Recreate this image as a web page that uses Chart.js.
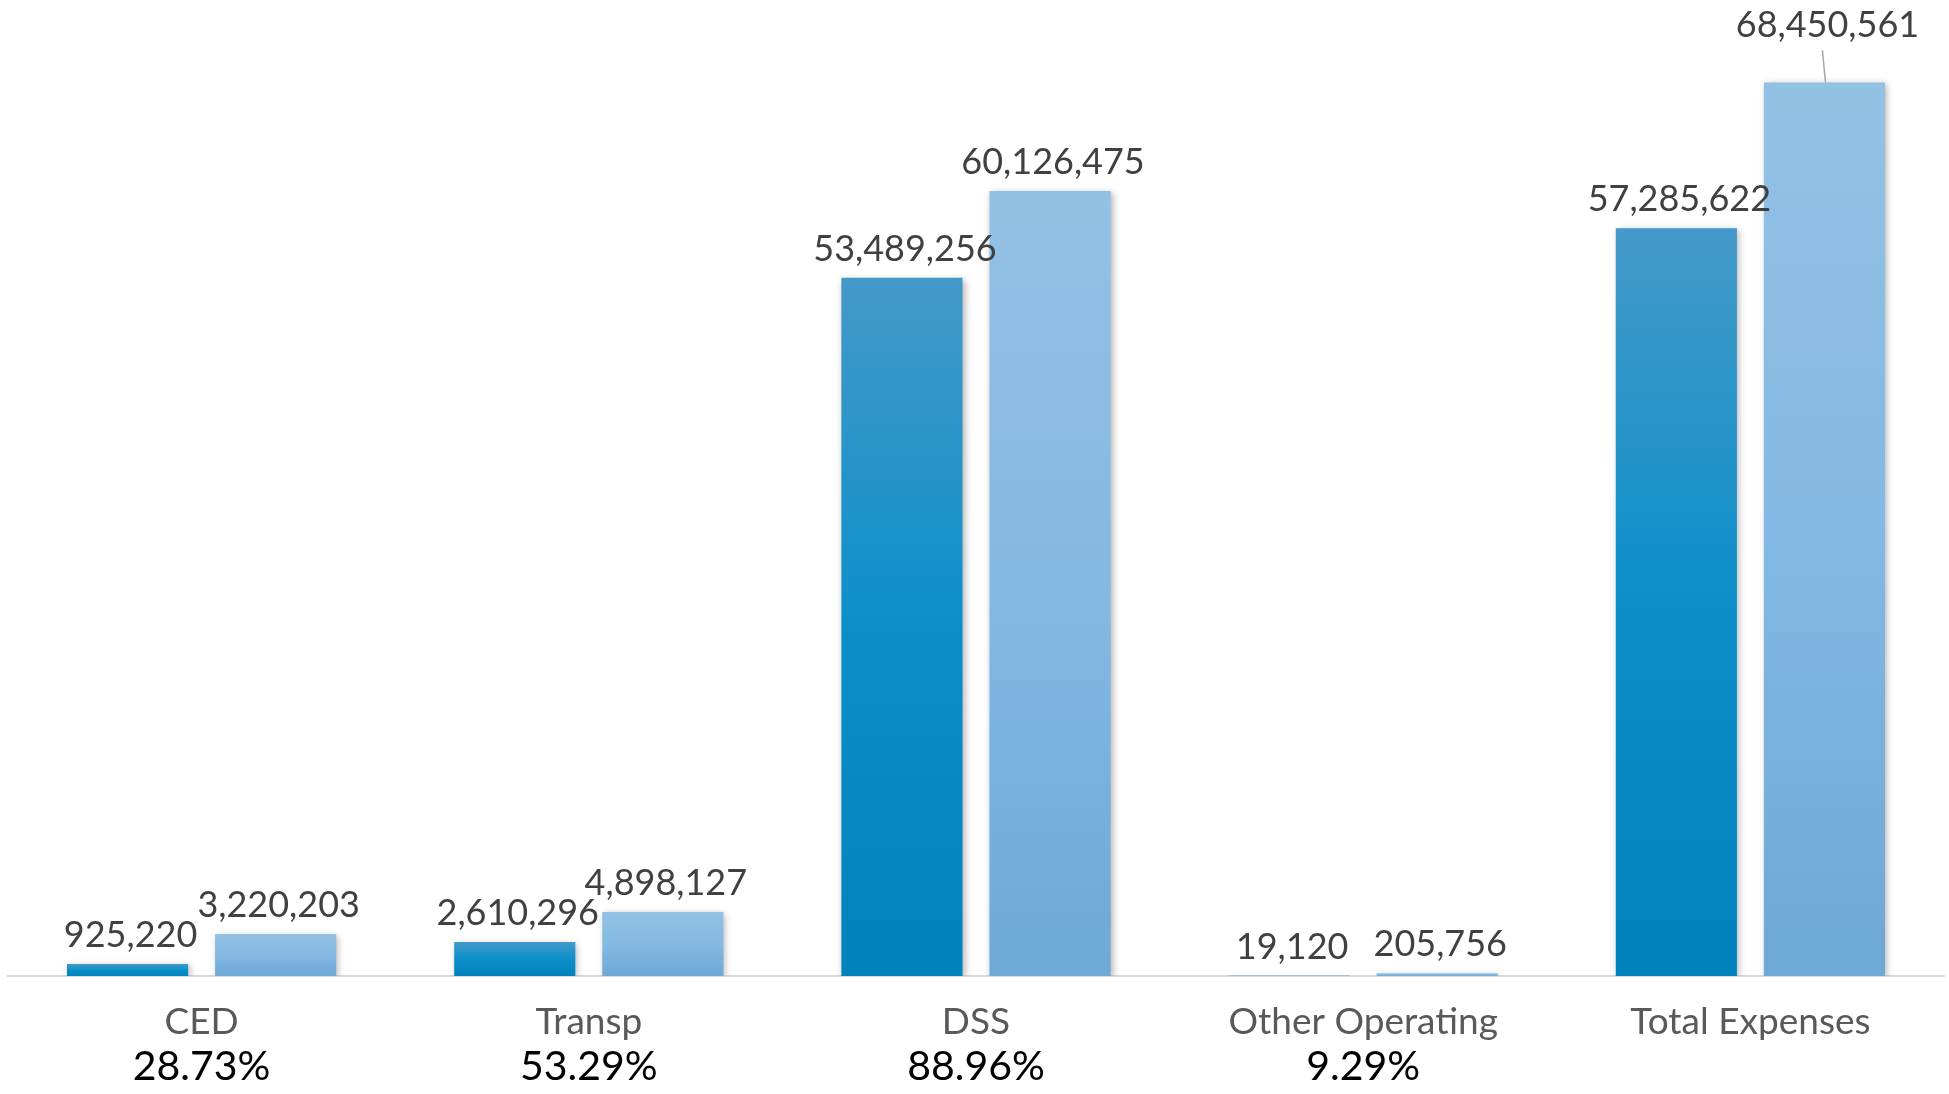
<!DOCTYPE html>
<html><head><meta charset="utf-8">
<script src="https://cdn.jsdelivr.net/npm/chart.js@4.4.0/dist/chart.umd.min.js"></script>
<style>html,body{margin:0;padding:0;background:#fff;} #wrap{width:1949px;height:1094px;position:relative;}</style>
</head><body><div id="wrap"><canvas id="c"></canvas></div>
<script>
const categories = ['CED', 'Transp', 'DSS', 'Other Operating', 'Total Expenses'];
const percentLabels = ['28.73%', '53.29%', '88.96%', '9.29%', ''];
const series1 = [925220, 2610296, 53489256, 19120, 57285622];
const series2 = [3220203, 4898127, 60126475, 205756, 68450561];

function grad(stops) {
  return (ctx) => {
    const chart = ctx.chart;
    const last = stops[stops.length - 1];
    if (!chart.chartArea || ctx.type !== 'data') return last;
    const y = chart.scales.y;
    const top = y.getPixelForValue(ctx.raw);
    const base = y.getPixelForValue(0);
    if (base - top < 1) return last;
    const g = chart.ctx.createLinearGradient(0, top, 0, base);
    stops.forEach((c, i) => g.addColorStop(i / (stops.length - 1), c));
    return g;
  };
}

const shadowPlugin = {
  id: 'barShadow',
  beforeDatasetsDraw(chart) {
    const c = chart.ctx;
    c.save();
    c.shadowColor = 'rgba(0,0,0,0.3)';
    c.shadowBlur = 7;
    c.shadowOffsetX = 2;
    c.shadowOffsetY = 2;
  },
  afterDatasetsDraw(chart) { chart.ctx.restore(); }
};

const labelPlugin = {
  id: 'valueLabels',
  afterDatasetsDraw(chart, args, opts) {
    const ctx = chart.ctx;
    ctx.save();
    ctx.font = '36px Lato';
    ctx.fillStyle = '#404040';
    ctx.textAlign = 'center';
    ctx.textBaseline = 'alphabetic';
    chart.data.datasets.forEach((ds, di) => {
      const meta = chart.getDatasetMeta(di);
      meta.data.forEach((bar, i) => {
        const text = ds.data[i].toLocaleString('en-US');
        let x = bar.x + 3, y = bar.y - 17;
        if (opts.lift && opts.lift.dataset === di && opts.lift.index === i) {
          y -= opts.lift.amount;
          ctx.save();
          ctx.strokeStyle = '#a6a6a6';
          ctx.lineWidth = 1.5;
          ctx.beginPath();
          ctx.moveTo(bar.x - 2, y + 13);
          ctx.lineTo(bar.x + 1, bar.y);
          ctx.stroke();
          ctx.restore();
        }
        ctx.fillText(text, x, y);
      });
    });
    ctx.restore();
  }
};

new Chart(document.getElementById('c'), {
  type: 'bar',
  data: {
    labels: categories,
    datasets: [
      { label: 'Series 1', data: series1, backgroundColor: grad(['#4499c9', '#0c8fc9', '#0082bc']) },
      { label: 'Series 2', data: series2, backgroundColor: grad(['#93c1e4', '#84b9e3', '#6ea8d5']) }
    ]
  },
  options: {
    responsive: true,
    maintainAspectRatio: false,
    animation: false,
    layout: { padding: { left: 8, right: 5, top: 10, bottom: 4 } },
    datasets: { bar: { categoryPercentage: 0.765, barPercentage: 0.818 } },
    plugins: {
      legend: { display: false },
      tooltip: { enabled: false },
      valueLabels: { lift: { dataset: 1, index: 4, amount: 28 } }
    },
    scales: {
      x: {
        weight: 0,
        grid: { display: false, drawTicks: false },
        border: { display: true, color: '#d9d9d9', width: 2 },
        ticks: { font: { family: 'Lato', size: 37, lineHeight: 1 }, color: '#595959', padding: 28, autoSkip: false, maxRotation: 0 },
        afterFit(scale) { scale.height = 70; }
      },
      x2: {
        type: 'category',
        labels: percentLabels,
        position: 'bottom',
        offset: true,
        weight: 1,
        grid: { display: false, drawTicks: false },
        border: { display: false },
        ticks: { font: { family: 'Lato', size: 41, lineHeight: 1 }, color: '#000000', padding: 0, autoSkip: false, maxRotation: 0 },
        afterFit(scale) { scale.height = 44; }
      },
      y: { display: false, min: 0, max: 74000000 }
    }
  },
  plugins: [shadowPlugin, labelPlugin]
});
</script>
</body></html>
